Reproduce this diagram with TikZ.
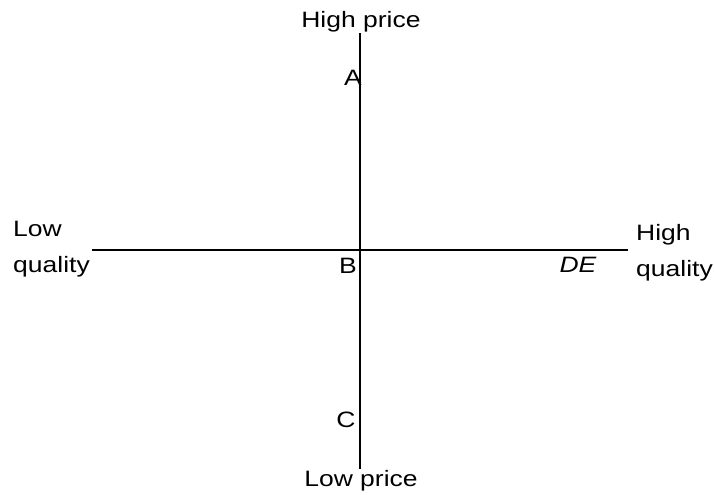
\documentclass[tikz,border=0pt]{standalone}
\usepackage{fontspec}
\setmainfont{Liberation Sans}[FakeStretch=1.19]
\usepackage{tikz}
\usetikzlibrary{positioning}

\begin{document}
\begin{tikzpicture}[
  x=0.03cm, y=-0.03cm,
  lbl/.style={inner sep=0pt, font=\fontsize{19}{30.6}\selectfont},
  sidelbl/.style={lbl, align=left, anchor=north west},
  axis/.style={line width=1.5pt, black}
]
\useasboundingbox (0,0) rectangle (714,495);
% axis end points
\coordinate (top)    at (360,33);
\coordinate (bottom) at (360,469);
\coordinate (left)   at (92,250);
\coordinate (right)  at (628,250);
\draw[axis] (top)  -- (bottom);
\draw[axis] (left) -- (right);
% axis labels
\node[lbl, anchor=base] (hiprice) at (361,27)  {High price};
\node[lbl, anchor=base] (loprice) at (361,486) {Low price};
\node[sidelbl] (loqual) at (13,221)  {Low\\quality};
\node[sidelbl] (hiqual) at (636,224) {High\\quality};
% points
\node[lbl, anchor=base] (ptA)  at (353,85)  {A};
\node[lbl, anchor=base] (ptB)  at (348,273) {B};
\node[lbl, anchor=base] (ptC)  at (346,427) {C};
\node[lbl, anchor=base] (ptDE) at (578,272) {\itshape DE};
\end{tikzpicture}
\end{document}
